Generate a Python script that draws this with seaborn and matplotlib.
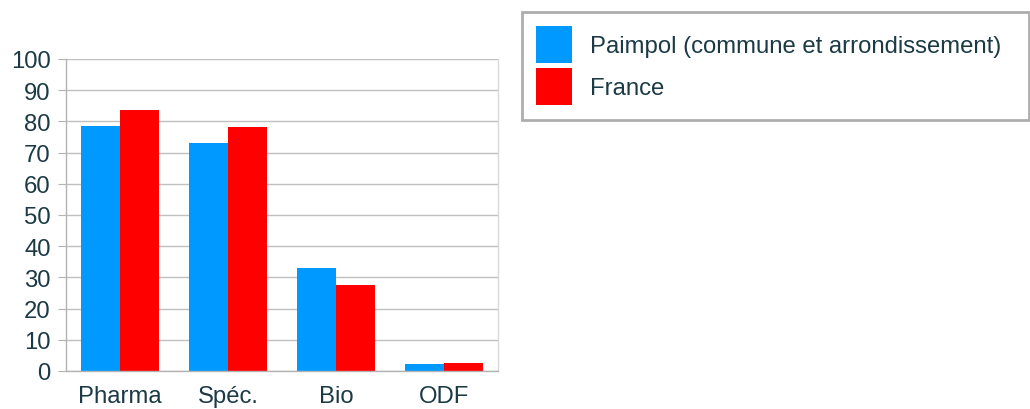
import matplotlib
matplotlib.use("Agg")
import matplotlib.pyplot as plt
import seaborn as sns
import pandas as pd
from matplotlib.patches import Patch

categories = ["Pharma", "Spéc.", "Bio", "ODF"]
paimpol = [78.4, 73.2, 33.0, 2.4]
france = [83.8, 78.1, 27.6, 2.6]
series_names = ["Paimpol (commune et arrondissement)", "France"]
yticks = [0, 10, 20, 30, 40, 50, 60, 70, 80, 90, 100]

df = pd.DataFrame({
    "cat": categories * 2,
    "val": paimpol + france,
    "serie": [series_names[0]] * 4 + [series_names[1]] * 4,
})

sns.set_style("white")
plt.rcParams['font.family'] = ['Liberation Sans', 'DejaVu Sans']
text_color = "#1b3a46"
colors = ["#0099ff", "#ff0000"]
fs = 17.2

fig = plt.figure(figsize=(10.3, 4.1), dpi=100)
ax = fig.add_axes([66/1030, 38/410, (498-66)/1030, (372-60)/410])

sns.barplot(data=df, x="cat", y="val", hue="serie", palette=colors,
            order=categories, hue_order=series_names, width=0.72,
            saturation=1, ax=ax, legend=False)

ax.set_ylim(0, 100)
ax.set_xlim(-0.5, 3.5)
ax.set_yticks(yticks)
ax.set_xlabel("")
ax.set_ylabel("")
ax.grid(axis="y", color="#c0c0c0", linewidth=1)
ax.set_axisbelow(True)
for b in ax.patches:
    b.set_edgecolor("none")
ax.spines["left"].set_color("#b3b3b3")
ax.spines["bottom"].set_color("#b3b3b3")
ax.spines["right"].set_color("#d9d9d9")
ax.spines["top"].set_visible(False)
for s in ax.spines.values():
    s.set_linewidth(1)
ax.tick_params(axis="y", length=6, color="#b3b3b3", pad=5, labelsize=fs, labelcolor=text_color, left=True)
ax.tick_params(axis="x", length=0, pad=10, labelsize=fs, labelcolor=text_color)

handles = [Patch(facecolor=c, edgecolor="none") for c in colors]
leg = fig.legend(handles, series_names, loc="upper left",
                 bbox_to_anchor=(522/1030, 1 - 118/410, (1029-522)/1030, 105/410),
                 mode="expand",
                 fontsize=fs, frameon=True, fancybox=False,
                 handlelength=1.5, handleheight=2.0, handletextpad=0.75,
                 labelspacing=0.21, borderpad=0.6, borderaxespad=0)
for t in leg.get_texts():
    t.set_color(text_color)
fr = leg.get_frame()
fr.set_edgecolor("#999999")
fr.set_linewidth(2)

fig.savefig("out.png", dpi=100)
